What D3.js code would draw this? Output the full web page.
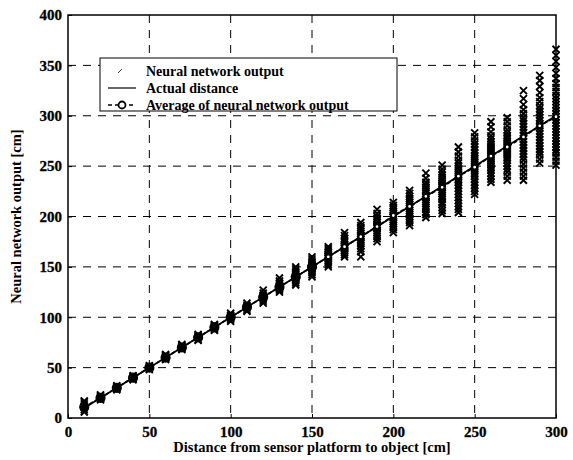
<!DOCTYPE html>
<html>
<head>
<meta charset="utf-8">
<script src="https://cdn.jsdelivr.net/npm/d3@7"></script>
<style>
  body { margin: 0; background: #fff; }
  text { font-family: "Liberation Serif", "DejaVu Serif", serif !important; font-weight: bold !important; }
</style>
</head>
<body>
<svg id="chart" width="573" height="460"></svg>
<script>
// distances (cm) at which the network was tested
var distances = [10, 20, 30, 40, 50, 60, 70, 80, 90, 100, 110, 120, 130, 140, 150,
  160, 170, 180, 190, 200, 210, 220, 230, 240, 250, 260, 270, 280, 290, 300];

// neural network outputs, one list per distance
var nnOutputs = [
  [6, 8, 10, 11, 12, 14, 16, 17],
  [18, 19, 20, 21, 22, 23],
  [28, 29, 30, 31, 32],
  [38, 39, 40, 41, 42],
  [48, 49, 50, 51, 52],
  [58, 59, 60, 61, 62, 63],
  [68, 69, 70, 71, 72, 73],
  [77, 78, 80, 81, 82, 83],
  [87, 88, 89, 90, 91, 92, 93],
  [96, 98, 99, 100, 101, 102, 104],
  [106, 107, 109, 110, 111, 112, 114],
  [114, 116, 118, 119, 120, 121, 122, 124, 127],
  [125, 127, 128, 129, 130, 131, 132, 134, 136, 139],
  [132, 134, 136, 138, 139, 140, 141, 142, 144, 146, 148, 150],
  [140, 142, 144, 146, 148, 149, 150, 151, 152, 154, 156, 158, 160],
  [150, 152, 154, 156, 158, 159, 160, 161, 162, 164, 166, 168, 170],
  [160, 162, 164, 166, 168, 169, 170, 171, 172, 174, 176, 178, 181, 184],
  [160, 165, 168, 171, 173, 175, 177, 179, 180, 181, 183, 185, 187, 189, 191, 194],
  [175, 178, 180, 182, 184, 186, 188, 189, 190, 191, 192, 194, 196, 198, 200, 203, 207],
  [184, 187, 189, 191, 193, 195, 197, 199, 200, 201, 203, 205, 207, 209, 211, 214],
  [191, 194, 196, 198, 200, 202, 204, 206, 208, 210, 212, 214, 216, 218, 220, 223, 226],
  [199, 202, 204, 207, 209, 211, 213, 215, 217, 219, 220, 221, 223, 225, 227, 229, 231, 234, 238, 243],
  [203, 206, 209, 212, 214, 217, 219, 221, 223, 225, 227, 229, 230, 231, 233, 235, 237, 239, 241, 244, 247, 251],
  [204, 207, 210, 213, 216, 219, 222, 225, 228, 231, 234, 236, 238, 240, 242, 244, 246, 248, 250, 253, 256, 260, 264, 269],
  [222, 225, 228, 231, 234, 237, 240, 242, 244, 246, 248, 250, 252, 254, 256, 258, 260, 263, 266, 269, 272, 275, 279, 283],
  [234, 237, 240, 243, 246, 248, 250, 252, 254, 256, 258, 260, 262, 264, 266, 268, 270, 272, 274, 277, 280, 284, 289, 294],
  [236, 240, 244, 247, 250, 253, 256, 258, 260, 262, 264, 266, 268, 270, 272, 274, 276, 278, 280, 283, 286, 290, 294, 298],
  [236, 240, 244, 248, 252, 256, 259, 262, 265, 268, 271, 274, 277, 280, 283, 286, 289, 292, 295, 298, 302, 306, 311, 317, 325],
  [253, 257, 261, 264, 267, 270, 273, 276, 279, 282, 285, 288, 290, 292, 295, 298, 301, 304, 307, 310, 314, 318, 323, 329, 335, 340],
  [251, 255, 259, 263, 266, 269, 272, 275, 278, 281, 284, 287, 290, 293, 296, 299, 302, 305, 308, 311, 314, 317, 320, 324, 328, 332, 337, 342, 348, 354, 360, 366]
];

// average of the network output at each distance
var averages = [11, 20, 30, 40, 50, 60, 70, 80, 90, 100, 110, 120, 130, 140, 150,
  160, 170, 180, 190, 201, 210, 220, 229, 240, 249, 260, 269, 279, 290, 299];

// actual distance line
var actualX = [10, 300];
var actualY = [10, 300];

var xTicks = [0, 50, 100, 150, 200, 250, 300];
var yTicks = [0, 50, 100, 150, 200, 250, 300, 350, 400];

var legendLabels = ["Neural network output", "Actual distance", "Average of neural network output"];

var margin = {top: 15, right: 17, bottom: 42, left: 68},
  width = 573 - margin.left - margin.right,
  height = 460 - margin.top - margin.bottom;

var svg = d3.select("#chart");
var g = svg.append("g")
  .attr("transform", "translate(" + margin.left + "," + margin.top + ")");

var x = d3.scaleLinear().domain([0, 300]).range([0, width]);
var y = d3.scaleLinear().domain([0, 400]).range([height, 0]);

// dashed grid
g.append("g")
  .selectAll("line")
  .data(xTicks.slice(1, -1))
  .enter().append("line")
  .attr("x1", function(d) { return x(d); })
  .attr("x2", function(d) { return x(d); })
  .attr("y1", 0).attr("y2", height)
  .attr("stroke", "#000").attr("stroke-width", 1)
  .attr("stroke-dasharray", "8,7");
g.append("g")
  .selectAll("line")
  .data(yTicks.slice(1, -1))
  .enter().append("line")
  .attr("y1", function(d) { return y(d); })
  .attr("y2", function(d) { return y(d); })
  .attr("x1", 0).attr("x2", width)
  .attr("stroke", "#000").attr("stroke-width", 1)
  .attr("stroke-dasharray", "8,7");

// axes
var xAxis = g.append("g")
  .attr("transform", "translate(0," + height + ")")
  .call(d3.axisBottom(x).tickValues(xTicks).tickSize(-4).tickPadding(8));
var yAxis = g.append("g")
  .call(d3.axisLeft(y).tickValues(yTicks).tickSize(-4).tickPadding(6));
[xAxis, yAxis].forEach(function(a) {
  a.attr("font-family", "Liberation Serif").attr("font-weight", "bold").attr("font-size", 15);
  a.select(".domain").remove();
  a.selectAll("text").attr("fill", "#000").attr("stroke", "#000").attr("stroke-width", 0.3);
});

// frame
g.append("rect")
  .attr("width", width).attr("height", height)
  .attr("fill", "none").attr("stroke", "#000").attr("stroke-width", 1.5);

// scatter of network outputs as x marks
var pts = [];
distances.forEach(function(dist, i) {
  nnOutputs[i].forEach(function(v) { pts.push({d: dist, v: v}); });
});
var s = 3.5;
g.append("g")
  .selectAll("path")
  .data(pts)
  .enter().append("path")
  .attr("d", function(p) {
    var cx = x(p.d), cy = y(p.v);
    return "M" + (cx - s) + "," + (cy - s) + "L" + (cx + s) + "," + (cy + s) +
      "M" + (cx - s) + "," + (cy + s) + "L" + (cx + s) + "," + (cy - s);
  })
  .attr("stroke", "#000").attr("stroke-width", 1.9).attr("fill", "none");

// actual distance
g.append("path")
  .datum(d3.zip(actualX, actualY))
  .attr("d", d3.line().x(function(d) { return x(d[0]); }).y(function(d) { return y(d[1]); }))
  .attr("stroke", "#000").attr("stroke-width", 1.8).attr("fill", "none");

// average line with circles
var avgData = d3.zip(distances, averages);
g.append("path")
  .datum(avgData)
  .attr("d", d3.line().x(function(d) { return x(d[0]); }).y(function(d) { return y(d[1]); }))
  .attr("stroke", "#000").attr("stroke-width", 1.8).attr("fill", "none")
  .attr("stroke-dasharray", "4,2");
g.append("g")
  .selectAll("circle")
  .data(avgData)
  .enter().append("circle")
  .attr("cx", function(d) { return x(d[0]); })
  .attr("cy", function(d) { return y(d[1]); })
  .attr("r", function(d) { return d[0] <= 150 ? 4.5 : 2; })
  .attr("fill", function(d) { return d[0] <= 150 ? "#000" : "#fff"; })
  .attr("stroke", "#000").attr("stroke-width", 1.2);

// legend
var lg = svg.append("g").attr("transform", "translate(100,58)");
lg.append("rect")
  .attr("width", 297).attr("height", 53)
  .attr("fill", "#fff").attr("stroke", "#000").attr("stroke-width", 1);
var rows = [13, 30, 47];
lg.selectAll("text.lab")
  .data(legendLabels)
  .enter().append("text")
  .attr("class", "lab")
  .attr("x", 46)
  .attr("y", function(d, i) { return rows[i] + 4.5; })
  .attr("font-size", 14)
  .attr("fill", "#000")
  .text(function(d) { return d; });
// row 1 symbol: small x mark
lg.append("path")
  .attr("d", "M18," + (rows[0] + 2) + "L22," + (rows[0] - 2))
  .attr("stroke", "#000").attr("stroke-width", 0.8);
// row 2: solid line
lg.append("line")
  .attr("x1", 8).attr("x2", 36).attr("y1", rows[1]).attr("y2", rows[1])
  .attr("stroke", "#000").attr("stroke-width", 1.2);
// row 3: dashed line with circle
lg.append("line")
  .attr("x1", 8).attr("x2", 36).attr("y1", rows[2]).attr("y2", rows[2])
  .attr("stroke", "#000").attr("stroke-width", 1.6).attr("stroke-dasharray", "4,3");
lg.append("circle")
  .attr("cx", 22).attr("cy", rows[2]).attr("r", 3.5)
  .attr("fill", "#fff").attr("stroke", "#000").attr("stroke-width", 1.8);

// axis titles
svg.append("text")
  .attr("x", margin.left + width / 2).attr("y", 452)
  .attr("text-anchor", "middle").attr("font-size", 14.5)
  .text("Distance from sensor platform to object [cm]");
svg.append("text")
  .attr("transform", "translate(21," + (margin.top + height / 2) + ") rotate(-90)")
  .attr("text-anchor", "middle").attr("font-size", 14.5)
  .text("Neural network output [cm]");
</script>
</body>
</html>
